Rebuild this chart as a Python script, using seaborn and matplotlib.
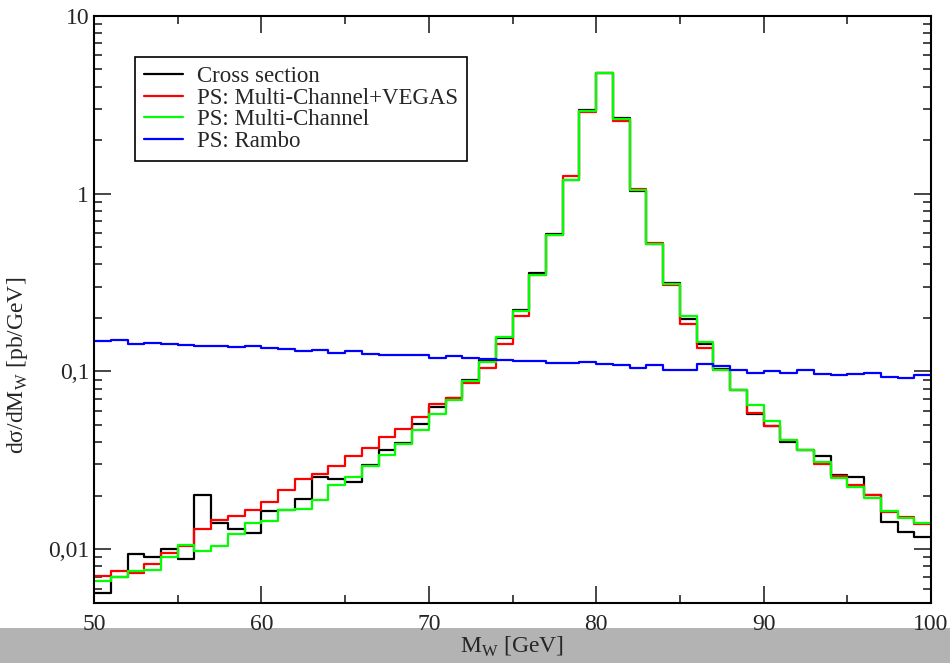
import numpy as np
import pandas as pd
import matplotlib
matplotlib.use('Agg')
import matplotlib.pyplot as plt
import seaborn as sns
from matplotlib.ticker import LogLocator, NullFormatter, MultipleLocator

# bin edges of the M_W histogram, 1 GeV bins
edges = np.arange(50, 101)

cross_section = [0.0057, 0.0070, 0.0094, 0.0090, 0.0100, 0.0088, 0.0203, 0.0141, 0.0130, 0.0123,
                 0.0164, 0.0167, 0.0192, 0.0254, 0.0248, 0.0239, 0.0297, 0.0361, 0.0397, 0.0503,
                 0.0630, 0.0711, 0.0889, 0.1153, 0.154, 0.222, 0.357, 0.596, 1.19, 2.96,
                 4.80, 2.66, 1.034, 0.518, 0.314, 0.198, 0.143, 0.103, 0.0789, 0.0573,
                 0.0490, 0.0400, 0.0359, 0.0334, 0.0262, 0.0256, 0.0202, 0.0143, 0.0125, 0.0117]

ps_mc_vegas = [0.0071, 0.0075, 0.0073, 0.0082, 0.0095, 0.0104, 0.0130, 0.0145, 0.0153, 0.0167,
               0.0184, 0.0216, 0.0247, 0.0264, 0.0293, 0.0333, 0.0372, 0.0427, 0.0476, 0.0554,
               0.0652, 0.0711, 0.0860, 0.1049, 0.1432, 0.204, 0.347, 0.582, 1.256, 2.87,
               4.80, 2.55, 1.058, 0.530, 0.305, 0.185, 0.135, 0.1014, 0.0789, 0.0583,
               0.0490, 0.0409, 0.0359, 0.0303, 0.0258, 0.0230, 0.0202, 0.0161, 0.0151, 0.0138]

ps_mc = [0.0066, 0.0070, 0.0075, 0.0076, 0.0090, 0.0105, 0.0098, 0.0104, 0.0121, 0.0141,
         0.0144, 0.0167, 0.0169, 0.0188, 0.0231, 0.0254, 0.0292, 0.0337, 0.0388, 0.0466,
         0.0578, 0.0687, 0.0882, 0.1128, 0.157, 0.218, 0.347, 0.582, 1.188, 2.93,
         4.80, 2.63, 1.044, 0.518, 0.310, 0.205, 0.146, 0.1014, 0.0789, 0.0650,
         0.0525, 0.0409, 0.0359, 0.0309, 0.0251, 0.0223, 0.0195, 0.0164, 0.0149, 0.0141]

ps_rambo = [0.148, 0.151, 0.143, 0.144, 0.143, 0.140, 0.1395, 0.1395, 0.137, 0.139,
            0.1347, 0.1335, 0.130, 0.1325, 0.1274, 0.130, 0.1251, 0.1242, 0.123, 0.1242,
            0.1188, 0.1214, 0.1188, 0.1168, 0.1153, 0.1143, 0.1138, 0.1109, 0.1109, 0.1124,
            0.1099, 0.1091, 0.1044, 0.1085, 0.1022, 0.1022, 0.1095, 0.1071, 0.1013, 0.0974,
            0.1004, 0.0978, 0.1022, 0.0966, 0.0953, 0.0966, 0.0983, 0.0925, 0.0913, 0.0949]

series_names = ['Cross section', 'PS: Multi-Channel+VEGAS', 'PS: Multi-Channel', 'PS: Rambo']
series_colors = ['#000000', '#ff0000', '#00ff00', '#0000ff']
series_values = [cross_section, ps_mc_vegas, ps_mc, ps_rambo]

ytick_vals = [0.01, 0.1, 1, 10]
ytick_labels = ['0,01', '0,1', '1', '10']
xtick_vals = [50, 60, 70, 80, 90, 100]

# long table, last value repeated so the final step reaches 100 GeV
frames = []
for name, vals in zip(series_names, series_values):
    frames.append(pd.DataFrame({'mw': edges, 'val': list(vals) + [vals[-1]], 'series': name}))
df = pd.concat(frames, ignore_index=True)

sns.set_style('ticks')
plt.rcParams['font.family'] = ['Liberation Serif', 'DejaVu Serif']
plt.rcParams['mathtext.fontset'] = 'custom'
plt.rcParams['mathtext.rm'] = 'Liberation Serif'

fig = plt.figure(figsize=(9.5, 6.63), dpi=100)
ax = fig.add_axes([0.099, 0.091, 0.881, 0.885])

sns.lineplot(data=df, x='mw', y='val', hue='series', hue_order=series_names,
             palette=series_colors, drawstyle='steps-post', estimator=None,
             sort=False, linewidth=1.6, ax=ax)

ax.set_yscale('log')
ax.set_xlim(50, 100)
ax.set_ylim(0.005, 10)
ax.set_xticks(xtick_vals)
ax.xaxis.set_minor_locator(MultipleLocator(5))
ax.set_yticks(ytick_vals, labels=ytick_labels)
ax.yaxis.set_minor_locator(LogLocator(base=10, subs=np.arange(2, 10)))
ax.yaxis.set_minor_formatter(NullFormatter())
ax.tick_params(which='both', direction='in', top=True, right=True, width=1.2, labelsize=17)
ax.tick_params(axis='x', which='major', pad=8)
ax.tick_params(which='major', length=12)
ax.tick_params(which='minor', length=6)
for sp in ax.spines.values():
    sp.set_linewidth(1.5)
    sp.set_color('black')

ax.set_xlabel('M$_\\mathrm{W}$ [GeV]', fontsize=17, labelpad=0)
ax.set_ylabel('dσ/dM$_\\mathrm{W}$ [pb/GeV]', fontsize=17)
ax.yaxis.set_label_coords(-0.076, 0.405)

leg = ax.legend(loc='upper left', bbox_to_anchor=(0.049, 0.93), fontsize=16.5,
                frameon=True, fancybox=False, edgecolor='black', framealpha=1,
                handlelength=1.7, handletextpad=0.6, borderpad=0.4, labelspacing=0.02,
                borderaxespad=0)
leg.get_frame().set_linewidth(1.2)

# grey bar along the bottom of the screenshot
fig.patches.append(plt.Rectangle((0, 0), 1, 0.053, transform=fig.transFigure,
                                 facecolor='#b3b3b3', edgecolor='none', zorder=-1))

fig.savefig('out.png', dpi=100)
